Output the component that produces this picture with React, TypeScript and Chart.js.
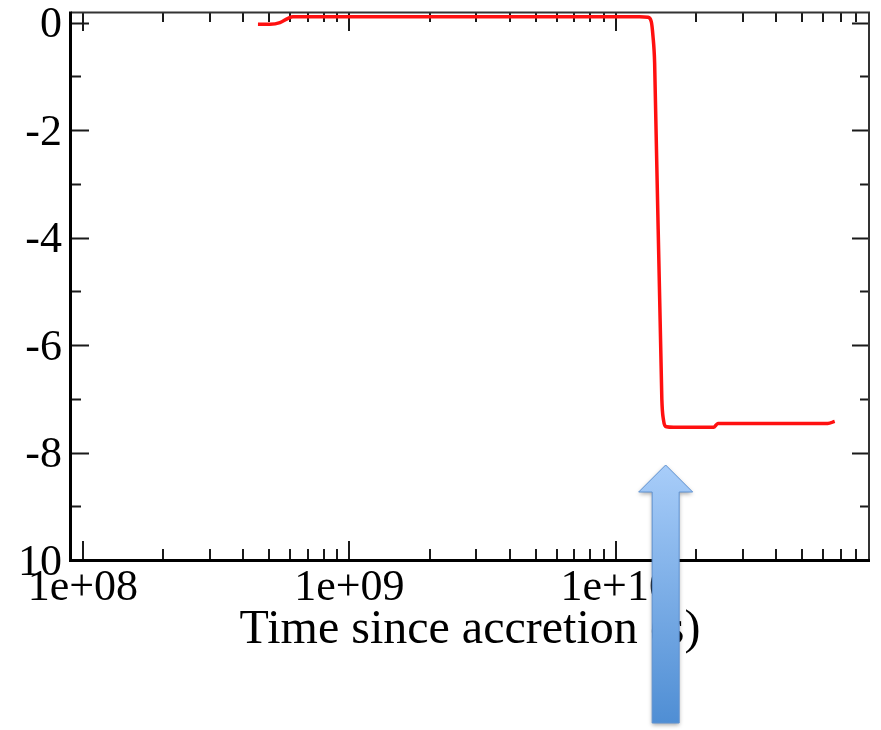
import React, { useEffect, useRef } from 'react';
import { Chart, registerables } from 'chart.js';

Chart.register(...registerables);

// Abundance track versus time since accretion (seconds, log axis)
const TIME_S = [
  4.54e8, 5.04e8, 5.49e8, 5.89e8, 6.14e8, 1.55e9, 5.0e9, 1.23e10, 1.32e10,
  1.36e10, 1.38e10, 1.40e10, 1.49e10, 1.51e10, 1.55e10, 1.65e10, 2.33e10,
  2.42e10, 3.47e10, 6.25e10, 6.64e10,
];
const LOG_VALUE = [
  -0.03, -0.03, 0.0, 0.08, 0.11, 0.11, 0.11, 0.11, 0.1, 0.02, -0.25, -0.75,
  -7.01, -7.38, -7.52, -7.53, -7.53, -7.46, -7.46, -7.46, -7.42,
];

// Axis ranges
const X_MIN = 9.02e7;
const X_MAX = 8.93e10;
const Y_MIN = -10;
const Y_MAX = 0.18;

// Tick values and labels
const X_MAJOR_TICKS = [1e8, 1e9, 1e10];
const X_MAJOR_LABELS = ['1e+08', '1e+09', '1e+10'];
const X_MINOR_MULTIPLES = [2, 3, 4, 5, 6, 7, 8, 9];
const Y_MAJOR_TICKS = [-10, -8, -6, -4, -2, 0];
const Y_MAJOR_LABELS = ['10', '-8', '-6', '-4', '-2', '0'];
const Y_MINOR_TICKS = [-9, -7, -5, -3, -1];

const X_TITLE = 'Time since accretion (s)';
// Time the arrow marks (the drop)
const ARROW_TIME = 1.54e10;

const FONT = "'Liberation Serif', 'DejaVu Serif', serif";

const xMinorTicks: number[] = [];
X_MAJOR_TICKS.forEach((d) => {
  X_MINOR_MULTIPLES.forEach((m) => {
    const v = d * m;
    if (v <= X_MAX) xMinorTicks.push(v);
  });
});

const near = (a: number, b: number) => Math.abs(a - b) <= Math.abs(b) * 1e-6 + 1e-9;
const isMajorX = (v: number) => X_MAJOR_TICKS.some((t) => near(v, t));
const isMajorY = (v: number) => Y_MAJOR_TICKS.some((t) => near(v, t));

const frameAndTicks = {
  id: 'frameAndTicks',
  beforeDatasetsDraw(chart: any) {
    const { ctx, chartArea, scales } = chart;
    const { left, right, top, bottom } = chartArea;
    const x = scales.x;
    const y = scales.y;
    ctx.save();
    ctx.lineCap = 'butt';
    // inward tick marks on all four sides
    ctx.strokeStyle = '#1a1a1a';
    ctx.lineWidth = 2;
    ctx.beginPath();
    x.ticks.forEach((t: any) => {
      const px = Math.round(x.getPixelForValue(t.value));
      const major = isMajorX(t.value);
      const lb = major ? 19 : 11;
      const lt = major ? 18 : 9;
      ctx.moveTo(px, bottom);
      ctx.lineTo(px, bottom - lb);
      ctx.moveTo(px, top);
      ctx.lineTo(px, top + lt);
    });
    y.ticks.forEach((t: any) => {
      const py = Math.round(y.getPixelForValue(t.value)) + 0.5;
      const major = isMajorY(t.value);
      const ll = major ? 18 : 10;
      const lr = major ? 17 : 9;
      ctx.moveTo(left, py);
      ctx.lineTo(left + ll, py);
      ctx.moveTo(right, py);
      ctx.lineTo(right - lr, py);
    });
    ctx.stroke();
    // top and right frame
    ctx.strokeStyle = '#333333';
    ctx.lineWidth = 2;
    ctx.beginPath();
    ctx.moveTo(left, top - 0.5);
    ctx.lineTo(right + 1, top - 0.5);
    ctx.moveTo(right, top - 1.5);
    ctx.lineTo(right, bottom);
    ctx.stroke();
    // left and bottom axes
    ctx.strokeStyle = '#000000';
    ctx.lineWidth = 3;
    ctx.beginPath();
    ctx.moveTo(left - 0.5, top - 1.5);
    ctx.lineTo(left - 0.5, bottom + 2);
    ctx.moveTo(left - 2, bottom + 0.5);
    ctx.lineTo(right + 1, bottom + 0.5);
    ctx.stroke();
    ctx.restore();
  },
};

const upArrow = {
  id: 'upArrow',
  afterDraw(chart: any) {
    const { ctx, scales } = chart;
    const cx = scales.x.getPixelForValue(ARROW_TIME);
    const tipY = 465;
    const headY = 492;
    const baseY = 723;
    const shaftHalf = 13.5;
    const headHalf = 27;
    ctx.save();
    const grad = ctx.createLinearGradient(0, tipY, 0, baseY);
    grad.addColorStop(0, '#a8cdf9');
    grad.addColorStop(1, '#4f8ed4');
    ctx.beginPath();
    ctx.moveTo(cx, tipY);
    ctx.lineTo(cx + headHalf, headY);
    ctx.lineTo(cx + shaftHalf, headY);
    ctx.lineTo(cx + shaftHalf, baseY);
    ctx.lineTo(cx - shaftHalf, baseY);
    ctx.lineTo(cx - shaftHalf, headY);
    ctx.lineTo(cx - headHalf, headY);
    ctx.closePath();
    ctx.shadowColor = 'rgba(0,0,0,0.35)';
    ctx.shadowBlur = 4;
    ctx.shadowOffsetY = 2;
    ctx.fillStyle = grad;
    ctx.fill();
    ctx.shadowColor = 'transparent';
    ctx.strokeStyle = '#5f92d2';
    ctx.lineWidth = 1;
    ctx.stroke();
    ctx.restore();
  },
};

export default function App() {
  const canvasRef = useRef<HTMLCanvasElement | null>(null);

  useEffect(() => {
    const canvas = canvasRef.current;
    if (!canvas) return;
    const chart = new Chart(canvas, {
      type: 'line',
      data: {
        datasets: [
          {
            data: TIME_S.map((t, i) => ({ x: t, y: LOG_VALUE[i] })),
            borderColor: '#ff1010',
            borderWidth: 3.5,
            pointRadius: 0,
            fill: false,
            cubicInterpolationMode: 'monotone',
          },
        ],
      },
      options: {
        responsive: false,
        animation: false,
        devicePixelRatio: 1,
        layout: { padding: { left: 0, top: 13, right: 12, bottom: 0 } },
        plugins: {
          legend: { display: false },
          tooltip: { enabled: false },
          title: { display: false },
        },
        scales: {
          x: {
            type: 'logarithmic',
            min: X_MIN,
            max: X_MAX,
            grid: { display: false, drawTicks: false },
            border: { display: false },
            afterBuildTicks: (scale: any) => {
              const vals = [...X_MAJOR_TICKS, ...xMinorTicks].sort((a, b) => a - b);
              scale.ticks = vals.map((v) => ({ value: v }));
            },
            afterFit: (scale: any) => {
              scale.height = 170;
              scale.paddingLeft = 0;
              scale.paddingRight = 0;
            },
            ticks: {
              autoSkip: false,
              maxRotation: 0,
              minRotation: 0,
              padding: 2,
              color: '#000',
              font: { family: FONT, size: 44 },
              callback: (value: any) => {
                const idx = X_MAJOR_TICKS.findIndex((t) => near(Number(value), t));
                return idx >= 0 ? X_MAJOR_LABELS[idx] : '';
              },
            },
            title: {
              display: true,
              text: X_TITLE,
              color: '#000',
              font: { family: FONT, size: 48, lineHeight: 1.2 },
              padding: { top: 0, bottom: 71 },
            },
          },
          y: {
            type: 'linear',
            min: Y_MIN,
            max: Y_MAX,
            grid: { display: false, drawTicks: false },
            border: { display: false },
            afterBuildTicks: (scale: any) => {
              const vals = [...Y_MAJOR_TICKS, ...Y_MINOR_TICKS].sort((a, b) => a - b);
              scale.ticks = vals.map((v) => ({ value: v }));
            },
            afterFit: (scale: any) => {
              scale.width = 71;
              scale.paddingTop = 0;
              scale.paddingBottom = 0;
            },
            ticks: {
              autoSkip: false,
              padding: 9,
              labelOffset: 3,
              color: '#000',
              font: { family: FONT, size: 44 },
              callback: (value: any) => {
                const idx = Y_MAJOR_TICKS.findIndex((t) => near(Number(value), t));
                return idx >= 0 ? Y_MAJOR_LABELS[idx] : '';
              },
            },
          },
        },
      },
      plugins: [frameAndTicks, upArrow],
    } as any);
    return () => chart.destroy();
  }, []);

  return (
    <div style={{ position: 'fixed', left: 0, top: 0, width: 881, height: 730, background: '#fff' }}>
      <canvas ref={canvasRef} width={881} height={730} />
    </div>
  );
}
